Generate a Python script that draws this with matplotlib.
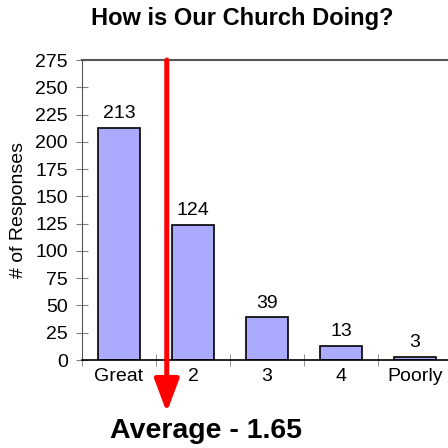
import matplotlib.pyplot as plt
import numpy as np

plt.rcParams['font.family'] = ['Liberation Sans', 'DejaVu Sans']

categories = ['Great', '2', '3', '4', 'Poorly']
responses = [213, 124, 39, 13, 3]
scores = [1, 2, 3, 4, 5]

average = sum(s * r for s, r in zip(scores, responses)) / sum(responses)

fig = plt.figure(figsize=(4.48, 4.48), dpi=100)
ax = fig.add_axes([82 / 448, 88 / 448, 370 / 448, 300 / 448])

x = np.arange(len(categories))
bars = ax.bar(x, responses, width=0.58, color='#aaaaff', edgecolor='black', linewidth=1.2, zorder=2)
for b, v in zip(bars, responses):
    ax.annotate(str(v), (b.get_x() + b.get_width() / 2, v), xytext=(0, 4),
                textcoords='offset points', ha='center', va='bottom', fontsize=14)

ax.set_xlim(-0.5, 4.5)
ax.set_ylim(0, 275)
ax.set_yticks(range(0, 276, 25))
ax.set_xticks(x)
ax.set_xticklabels(categories)
ax.set_xticks(np.arange(-0.5, 4.0, 1.0), minor=True)
ax.tick_params(axis='y', direction='inout', length=8, color='gray', labelsize=14, pad=6)
ax.tick_params(axis='x', which='major', length=0, labelsize=14, pad=6)
ax.tick_params(axis='x', which='minor', direction='inout', length=8, color='gray')

ax.spines['right'].set_visible(False)
ax.spines['top'].set_color('#555555')
ax.spines['top'].set_linewidth(1.5)
ax.spines['left'].set_color('#555555')
ax.spines['bottom'].set_color('black')
ax.spines['bottom'].set_linewidth(1.2)
ax.set_ylabel('# of Responses', fontsize=14, labelpad=6)

# red arrow at the average score
avg_pos = average - 1
ax.annotate('', xy=(avg_pos, -48), xytext=(avg_pos, 275),
            arrowprops=dict(arrowstyle='-|>,head_length=2.0,head_width=0.75', color='red',
                            lw=3.6, shrinkA=0, shrinkB=0, mutation_scale=10),
            annotation_clip=False, zorder=3)

fig.text(206 / 448, 1 - 431 / 448, 'Average - {:.2f}'.format(average), ha='center', va='center',
         fontsize=20.5, fontweight='bold')
fig.text(242 / 448, 1 - 19 / 448, 'How is Our Church Doing?', ha='center', va='center',
         fontsize=17, fontweight='bold')

fig.savefig('out.png', dpi=100)
